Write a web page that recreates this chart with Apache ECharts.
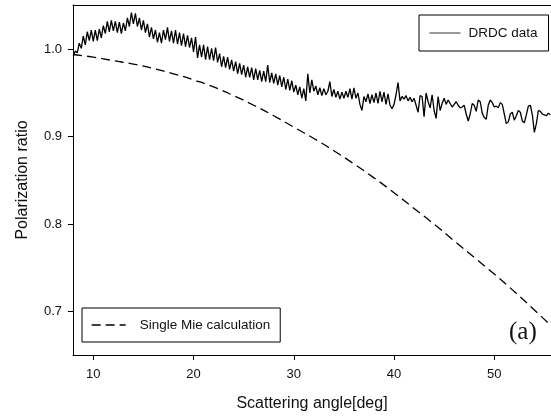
<!DOCTYPE html>
<html>
<head>
<meta charset="utf-8">
<script src="https://cdn.jsdelivr.net/npm/echarts@6/dist/echarts.min.js"></script>
<style>html,body{margin:0;padding:0;background:#fff;}#c{width:551px;height:419px;}</style>
</head>
<body>
<div id="c"></div>
<script>
// Scattering angle ticks and polarization ratio ticks
const xTicks = [10, 20, 30, 40, 50];
const yTicks = [0.7, 0.8, 0.9, 1.0];

// DRDC measured data, sampled every 0.2 deg from 8.0 deg
const drdcAngleStart = 8.0;
const drdcAngleStep = 0.2;
const drdcValues = [
  0.992, 0.998, 0.996, 1.007, 1.001, 1.015, 1.005, 1.020, 1.010, 1.022,
  1.009, 1.022, 1.010, 1.023, 1.013, 1.027, 1.018, 1.032, 1.020, 1.033,
  1.021, 1.032, 1.019, 1.031, 1.018, 1.030, 1.021, 1.036, 1.026, 1.042,
  1.029, 1.041, 1.026, 1.036, 1.022, 1.033, 1.019, 1.029, 1.014, 1.025,
  1.012, 1.022, 1.008, 1.019, 1.007, 1.022, 1.011, 1.025, 1.009, 1.021,
  1.007, 1.022, 1.006, 1.019, 1.004, 1.018, 1.003, 1.016, 1.002, 1.013,
  0.997, 1.014, 0.990, 1.005, 0.991, 1.005, 0.988, 1.003, 0.988, 1.001,
  0.987, 1.002, 0.985, 0.995, 0.980, 0.992, 0.979, 0.991, 0.977, 0.988,
  0.975, 0.986, 0.972, 0.984, 0.971, 0.982, 0.968, 0.980, 0.968, 0.979,
  0.965, 0.978, 0.965, 0.976, 0.963, 0.975, 0.963, 0.982, 0.962, 0.973,
  0.961, 0.972, 0.959, 0.970, 0.957, 0.968, 0.954, 0.966, 0.953, 0.964,
  0.951, 0.959, 0.948, 0.957, 0.944, 0.955, 0.941, 0.972, 0.950, 0.965,
  0.952, 0.958, 0.948, 0.956, 0.947, 0.955, 0.948, 0.952, 0.963, 0.946,
  0.954, 0.945, 0.952, 0.943, 0.951, 0.944, 0.952, 0.945, 0.955, 0.943,
  0.956, 0.944, 0.950, 0.937, 0.930, 0.946, 0.940, 0.949, 0.938, 0.948,
  0.939, 0.950, 0.938, 0.952, 0.940, 0.951, 0.937, 0.949, 0.936, 0.932,
  0.937, 0.948, 0.962, 0.941, 0.946, 0.943, 0.947, 0.941, 0.945, 0.940,
  0.944, 0.936, 0.928, 0.947, 0.946, 0.923, 0.950, 0.940, 0.933, 0.948,
  0.930, 0.921, 0.946, 0.930, 0.938, 0.944, 0.937, 0.942, 0.938, 0.934,
  0.937, 0.940, 0.936, 0.933, 0.934, 0.936, 0.926, 0.918, 0.926, 0.938,
  0.936, 0.929, 0.942, 0.940, 0.927, 0.922, 0.920, 0.936, 0.942, 0.939,
  0.934, 0.935, 0.933, 0.939, 0.937, 0.926, 0.915, 0.917, 0.926, 0.928,
  0.919, 0.924, 0.930, 0.928, 0.918, 0.916, 0.925, 0.935, 0.936, 0.925,
  0.905, 0.915, 0.930, 0.929, 0.926, 0.925, 0.924, 0.927, 0.925
];

// Single Mie calculation
const mieAngles = [8, 10, 12, 14, 16, 18, 20, 22, 24, 26, 28, 30, 32, 34, 36, 38, 40, 42, 44, 46, 48, 50, 52, 54, 55.66];
const mieValues = [0.994, 0.991, 0.987, 0.983, 0.978, 0.972, 0.965, 0.957, 0.947, 0.936, 0.924, 0.911, 0.898, 0.884, 0.869, 0.853, 0.836, 0.818, 0.800, 0.781, 0.762, 0.743, 0.723, 0.702, 0.684];

const drdcData = drdcValues.map((v, i) => [+(drdcAngleStart + i * drdcAngleStep).toFixed(1), v]);
const mieData = mieAngles.map((a, i) => [a, mieValues[i]]);

const FONT = '"Liberation Sans", Arial, sans-serif';
const X_MIN = 7.975, X_MAX = 55.66, Y_MIN = 0.6505, Y_MAX = 1.0506;

const chart = echarts.init(document.getElementById('c'), null, { renderer: 'canvas' });
chart.setOption({
  animation: false,
  backgroundColor: '#fff',
  grid: { left: 73, top: 5, width: 478, height: 350 },
  xAxis: [{
    type: 'value', min: X_MIN, max: X_MAX,
    name: 'Scattering angle[deg]', nameLocation: 'middle', nameGap: 41,
    nameTextStyle: { fontFamily: FONT, fontSize: 16, color: '#111' },
    axisLine: { show: true, lineStyle: { color: '#000', width: 1 } },
    axisTick: { show: true, inside: false, length: 5, customValues: xTicks, lineStyle: { color: '#000' } },
    axisLabel: { show: true, margin: 13, customValues: xTicks, fontFamily: FONT, fontSize: 13, color: '#111',
      formatter: v => String(v) },
    splitLine: { show: false }
  }, {
    type: 'value', position: 'top', min: X_MIN, max: X_MAX,
    axisLine: { show: true, onZero: false, lineStyle: { color: '#000', width: 1 } },
    axisTick: { show: false }, axisLabel: { show: false }, splitLine: { show: false }
  }],
  yAxis: [{
    type: 'value', min: Y_MIN, max: Y_MAX,
    name: 'Polarization ratio', nameLocation: 'middle', nameGap: 42, nameRotate: 90,
    nameTextStyle: { fontFamily: FONT, fontSize: 16, color: '#111' },
    axisLine: { show: true, onZero: false, lineStyle: { color: '#000', width: 1 } },
    axisTick: { show: true, inside: false, length: 5, customValues: yTicks, lineStyle: { color: '#000' } },
    axisLabel: { show: true, margin: 11, customValues: yTicks, fontFamily: FONT, fontSize: 13, color: '#111',
      formatter: v => v.toFixed(1) },
    splitLine: { show: false }
  }],
  legend: [{
    data: ['DRDC data'],
    left: 419, top: 15, orient: 'vertical',
    padding: [11, 11, 11, 10],
    itemWidth: 31, itemHeight: 14,
    itemStyle: { opacity: 0 },
    lineStyle: { width: 1, color: '#333' },
    borderColor: '#000', borderWidth: 1, backgroundColor: '#fff',
    textStyle: { fontFamily: FONT, fontSize: 13.5, color: '#111', padding: [0, 0, 0, 3] },
    selectedMode: false, z: 10
  }, {
    data: ['Single Mie calculation'],
    left: 82, top: 308, orient: 'vertical',
    padding: [10, 10, 10, 9],
    itemWidth: 34, itemHeight: 14,
    itemStyle: { opacity: 0 },
    lineStyle: { width: 1.3, color: '#000' },
    borderColor: '#000', borderWidth: 1, backgroundColor: '#fff',
    textStyle: { fontFamily: FONT, fontSize: 13.5, color: '#111', padding: [0, 0, 0, 9] },
    selectedMode: false, z: 10
  }],
  graphic: [{
    type: 'text', left: 509, top: 320, z: 20,
    style: { text: '(a)', font: '25px "Liberation Serif", "Times New Roman", serif', fill: '#111' }
  }],
  series: [{
    name: 'DRDC data', type: 'line', data: drdcData, symbol: 'none',
    lineStyle: { color: '#000', width: 1.3 }, itemStyle: { color: '#000' }, z: 3
  }, {
    name: 'Single Mie calculation', type: 'line', data: mieData, symbol: 'none', smooth: true,
    lineStyle: { color: '#000', width: 1.3, type: [9, 5] }, itemStyle: { color: '#000' }, z: 2
  }]
});
</script>
</body>
</html>
